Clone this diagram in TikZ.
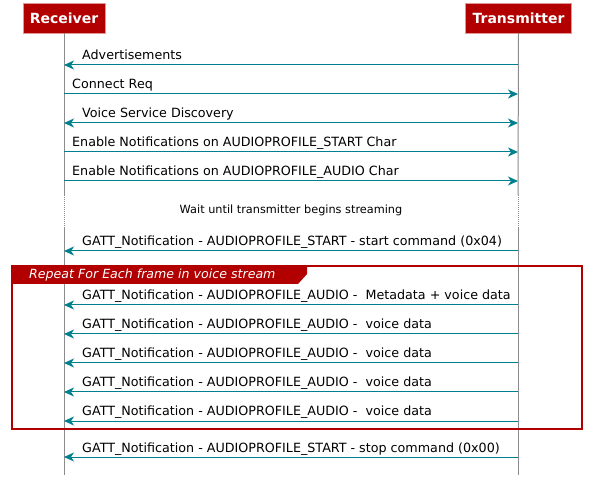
\documentclass[tikz,border=0pt]{standalone}
\usepackage{fontspec}
\setmainfont{DejaVu Sans}
\usetikzlibrary{arrows.meta}
\definecolor{hdrred}{RGB}{178,0,0}
\definecolor{hdrline}{RGB}{225,150,150}
\definecolor{msgteal}{RGB}{0,128,140}
\definecolor{lifegray}{RGB}{140,140,140}
\tikzset{
  part/.style={fill=hdrred, draw=hdrline, text=white, font=\fontsize{14}{16}\selectfont\bfseries, minimum height=30pt, inner xsep=7pt},
  life/.style={lifegray, line width=1pt},
  msg/.style={msgteal, line width=1pt, -{Stealth[length=10pt,width=9pt,inset=3pt]}},
  msgboth/.style={msg, {Stealth[length=10pt,width=9pt,inset=3pt]}-{Stealth[length=10pt,width=9pt,inset=3pt]}},
  lbl/.style={font=\fontsize{12.7}{15}\selectfont, inner sep=0pt, anchor=base west},
}
\begin{document}
\begin{tikzpicture}[x=1pt,y=-1pt]
    \useasboundingbox (0,0) rectangle (592,486);
    % Participants
    \node[part] (rec) at (64,18) {Receiver};
    \node[part] (trm) at (518.5,18) {Transmitter};

    % Lifelines
    \coordinate (rw1) at (64,195); \coordinate (rw2) at (64,227); \coordinate (rend) at (64,475);
    \coordinate (tw1) at (518,195); \coordinate (tw2) at (518,227); \coordinate (tend) at (518,475);
    \draw[life] (rec.south) -- (rw1);
    \draw[life, densely dotted] (rw1) -- (rw2);
    \draw[life] (rw2) -- (rend);
    \draw[life] (trm.south) -- (tw1);
    \draw[life, densely dotted] (tw1) -- (tw2);
    \draw[life] (tw2) -- (tend);

    % Message rows on both lifelines
    \foreach \i/\y in {1/65,2/94,3/123,4/152,5/181,6/251,7/305,8/334,9/363,10/392,11/421,12/457} {
        \coordinate (r\i) at (64,\y);
        \coordinate (t\i) at (518,\y);
    }

    % Connection setup
    \draw[msg] (t1) -- (r1);
    \node[lbl] (m1) at ([xshift=18pt,yshift=5pt]r1) {Advertisements};
    \draw[msg] (r2) -- (t2);
    \node[lbl] (m2) at ([xshift=8pt,yshift=5pt]r2) {Connect Req};
    \draw[msgboth] (r3) -- (t3);
    \node[lbl] (m3) at ([xshift=18pt,yshift=5pt]r3) {Voice Service Discovery};
    \draw[msg] (r4) -- (t4);
    \node[lbl] (m4) at ([xshift=8pt,yshift=5pt]r4) {Enable Notifications on AUDIOPROFILE\_START Char};
    \draw[msg] (r5) -- (t5);
    \node[lbl] (m5) at ([xshift=8pt,yshift=5pt]r5) {Enable Notifications on AUDIOPROFILE\_AUDIO Char};

    % Wait
    \node[font=\fontsize{11.3}{13}\selectfont] (wait) at (291,210) {Wait until transmitter begins streaming};

    % Start command
    \draw[msg] (t6) -- (r6);
    \node[lbl] (m6) at ([xshift=18pt,yshift=5pt]r6) {GATT\_Notification - AUDIOPROFILE\_START - start command (0x04)};

    % Loop frame
    \draw[hdrred, line width=1.5pt] (12,266) rectangle (582,429);
    \fill[hdrred] (12,266) -- (307,266) -- (307,274) -- (298,284) -- (12,284) -- cycle;
    \node[font=\fontsize{12.6}{15}\selectfont\itshape, text=white, inner sep=0pt, anchor=base west] (looplbl) at (29,279) {Repeat For Each frame in voice stream};

    % Voice frames
    \draw[msg] (t7) -- (r7);
    \node[lbl] (m7) at ([xshift=18pt,yshift=5pt]r7) {GATT\_Notification - AUDIOPROFILE\_AUDIO -\ \ Metadata + voice data};
    \foreach \i in {8,...,11} {
        \draw[msg] (t\i) -- (r\i);
        \node[lbl] (m\i) at ([xshift=18pt,yshift=5pt]r\i) {GATT\_Notification - AUDIOPROFILE\_AUDIO -\ \ voice data};
    }

    % Stop command
    \draw[msg] (t12) -- (r12);
    \node[lbl] (m12) at ([xshift=18pt,yshift=5pt]r12) {GATT\_Notification - AUDIOPROFILE\_START - stop command (0x00)};
\end{tikzpicture}
\end{document}
